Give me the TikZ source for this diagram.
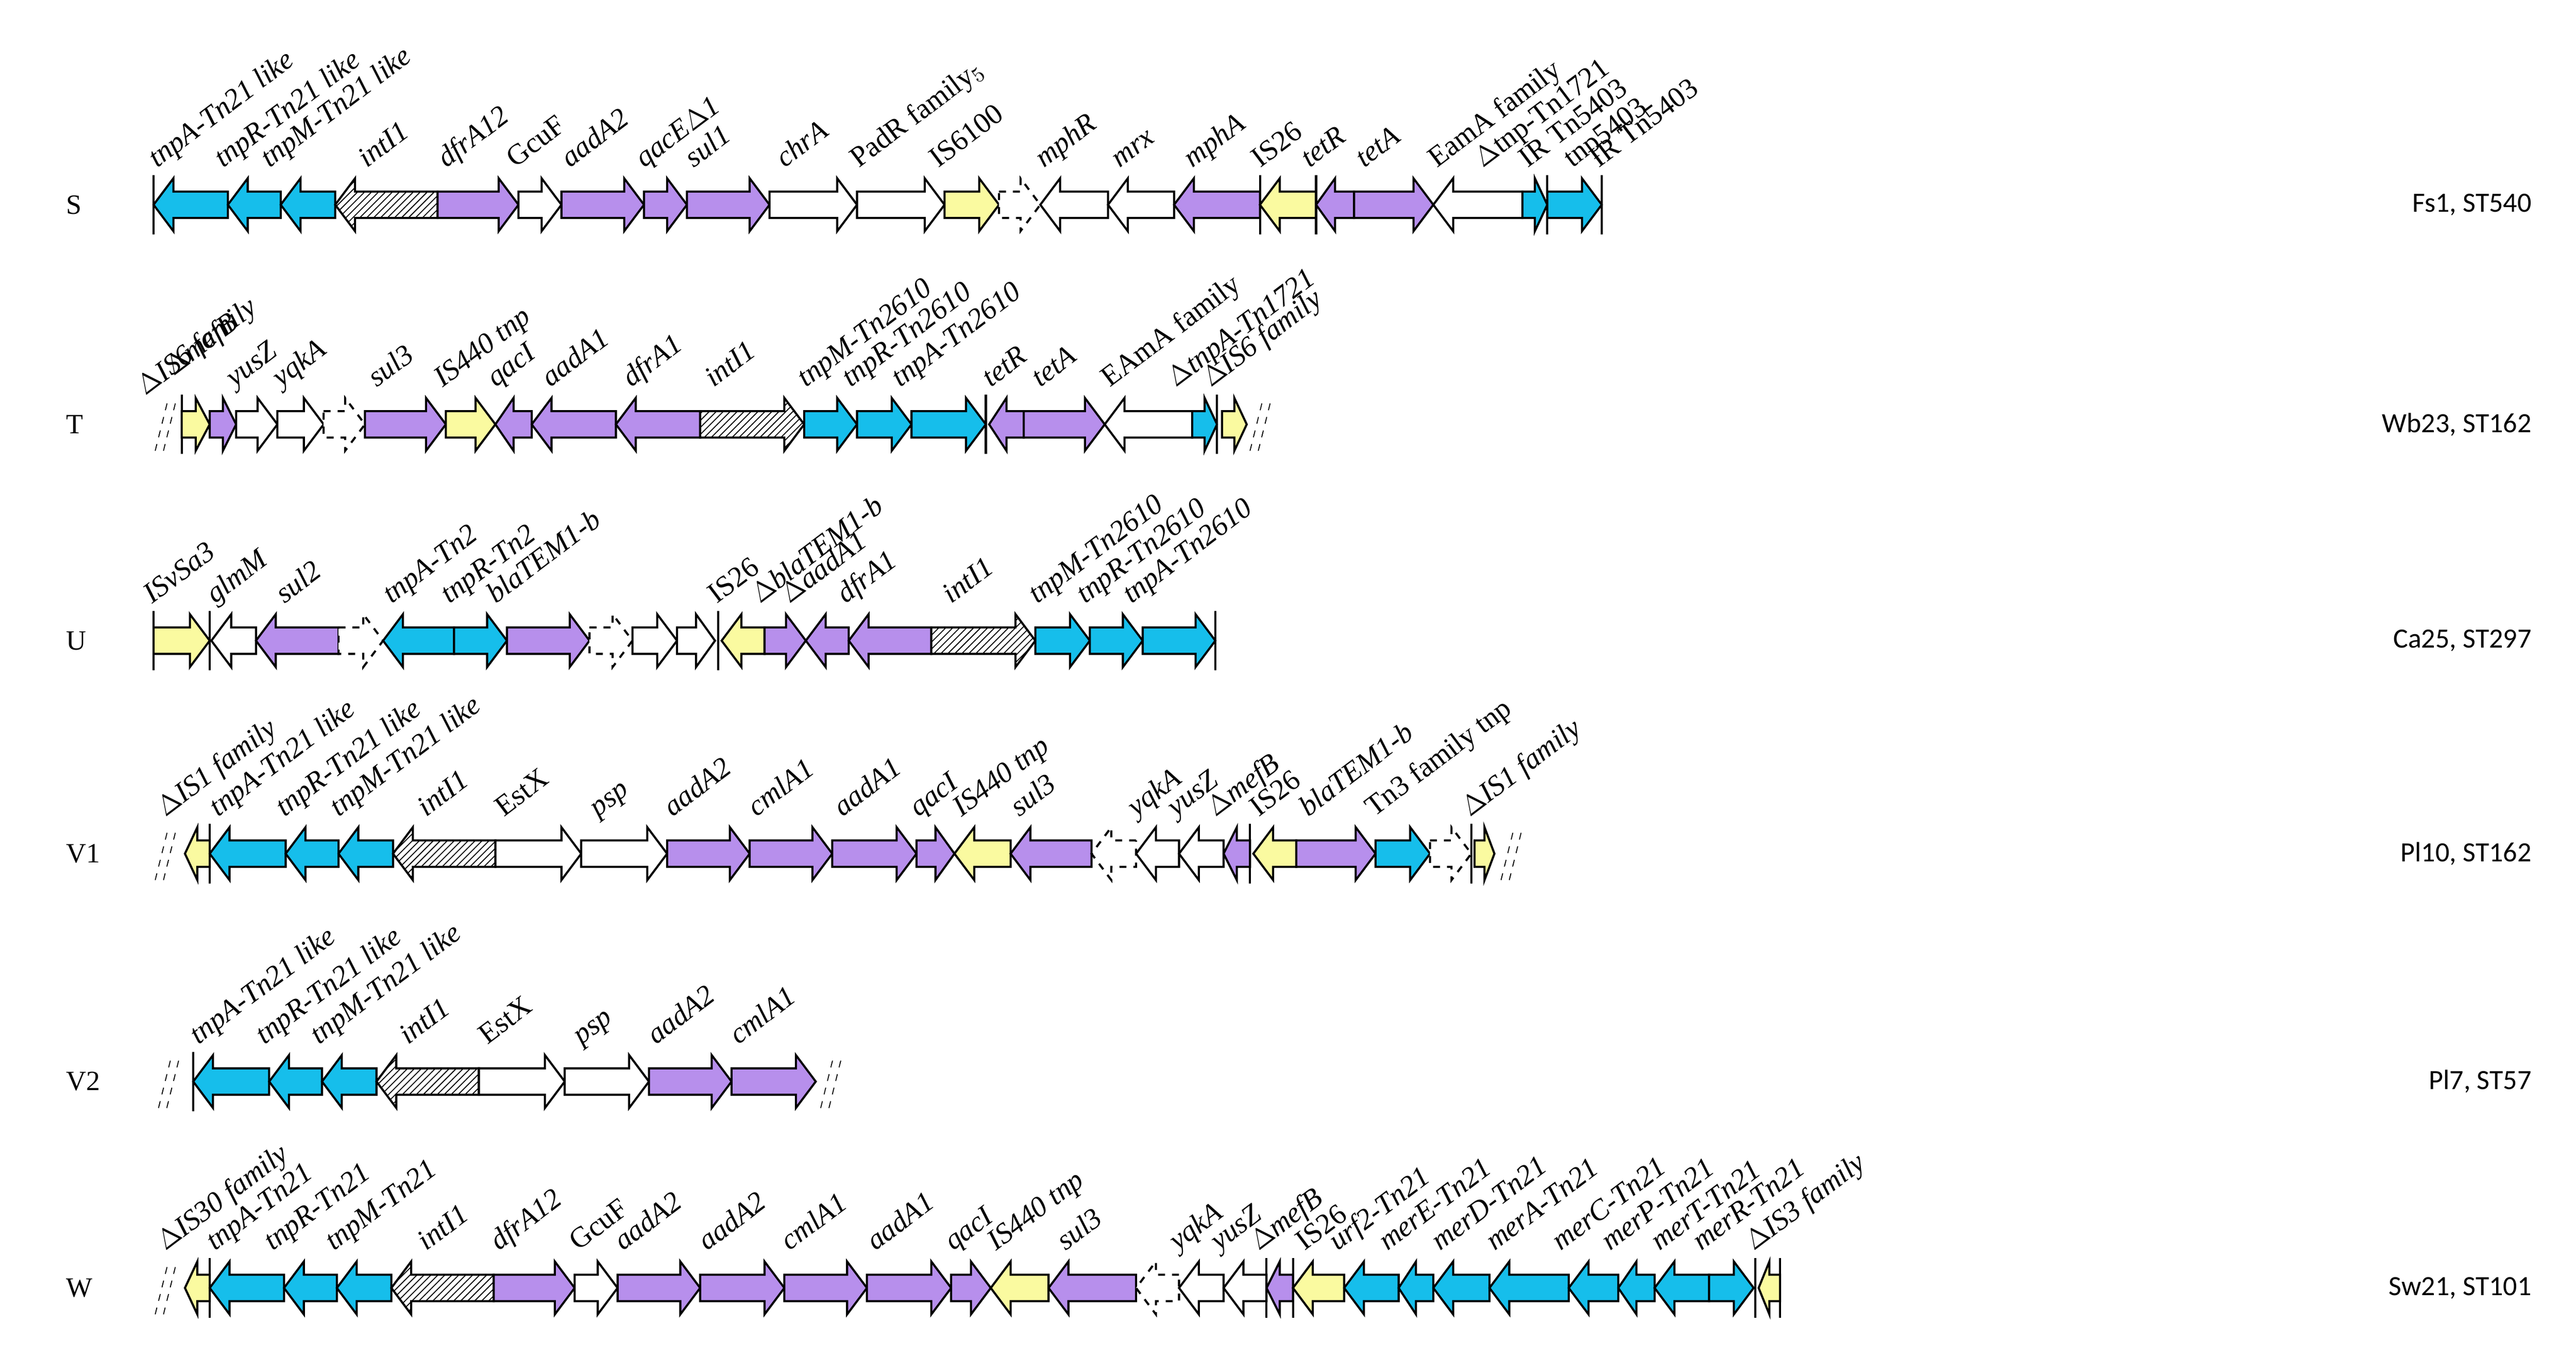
\documentclass[tikz,border=0pt]{standalone}
\usepackage{fontspec}
\setmainfont{Liberation Serif}
\newfontfamily\calib{Carlito}
\usetikzlibrary{patterns}
\definecolor{cyn}{RGB}{22,190,235}
\definecolor{pur}{RGB}{183,143,236}
\definecolor{yel}{RGB}{250,250,160}
\tikzset{
 g/.style={draw=black,line width=0.9pt,line join=miter},
 cy/.style={g,fill=cyn}, pu/.style={g,fill=pur}, ye/.style={g,fill=yel}, wh/.style={g,fill=white},
 hat/.style={g,fill=white,postaction={pattern=north east lines}},
 ds/.style={g,fill=white,dashed},
 lab/.style={rotate=37,anchor=base west,inner sep=0pt,font=\fontsize{12.5}{14}\selectfont\itshape},
 bar/.style={line width=0.9pt},
 rowl/.style={font=\fontsize{12}{14}\selectfont,anchor=west},
 strn/.style={font=\calib\fontsize{12}{14}\selectfont,anchor=east}
}
\newcommand\GR[6]{%
 \pgfmathsetmacro\hh{min(12,0.5*(#2-#1))}
 \draw[#4] (#1,#3-8) -- (#2-\hh,#3-8) -- (#2-\hh,#3-16) -- (#2,#3) -- (#2-\hh,#3+16) -- (#2-\hh,#3+8) -- (#1,#3+8) -- cycle;
 \node[lab] at (#5,#3-22) {#6};}
\newcommand\GL[6]{%
 \pgfmathsetmacro\hh{min(12,0.5*(#2-#1))}
 \draw[#4] (#2,#3-8) -- (#1+\hh,#3-8) -- (#1+\hh,#3-16) -- (#1,#3) -- (#1+\hh,#3+16) -- (#1+\hh,#3+8) -- (#2,#3+8) -- cycle;
 \node[lab] at (#5,#3-22) {#6};}
\newcommand\BR[2]{\draw[bar] (#1,#2-18) -- (#1,#2+18);}
\newcommand\BRK[2]{\draw[thin,dashed] (#1-8,#2+16) -- (#1,#2-16) (#1-3,#2+16) -- (#1+5,#2-16);}
\begin{document}
\begin{tikzpicture}[x=0.025cm,y=-0.025cm]
\useasboundingbox (0,0) rectangle (1560,822.2);
% ---------------- S
\node[rowl] at (35,124) {S};
\node[strn] at (1538,124) {Fs1, ST540};
\BR{93}{124}
\GL{93}{138}{124}{cy}{95}{tnpA-Tn21 like}
\GL{138}{170}{124}{cy}{135}{tnpR-Tn21 like}
\GL{170}{203}{124}{cy}{163}{tnpM-Tn21 like}
\GL{203}{265}{124}{hat}{222}{intI1}
\GR{265}{314}{124}{pu}{270}{dfrA12}
\GR{314}{340}{124}{wh}{312}{\upshape GcuF}
\GR{340}{390}{124}{pu}{345}{aadA2}
\GR{390}{416}{124}{pu}{390}{qacE$\Delta$1}
\GR{416}{466}{124}{pu}{420}{sul1}
\GR{466}{519}{124}{wh}{475}{chrA}
\GR{519}{572}{124}{wh}{520}{\upshape PadR family$_5$}
\GR{572}{605}{124}{ye}{568}{\upshape IS6100}
\GR{605}{630}{124}{ds}{605}{}
\GL{630}{671}{124}{wh}{632}{mphR}
\GL{671}{711}{124}{wh}{678}{mrx}
\GL{711}{763}{124}{pu}{722}{mphA}
\BR{763}{124}
\GL{763}{797}{124}{ye}{763}{\upshape IS26}
\BR{797}{124}
\GL{797}{820}{124}{pu}{793}{tetR}
\GR{820}{868}{124}{pu}{826}{tetA}
\GL{868}{922}{124}{wh}{870}{\upshape EamA family}
\GR{922}{937}{124}{cy}{898}{\upshape $\Delta$tnp-Tn1721}
\BR{937}{124}
\GR{937}{970}{124}{cy}{952}{\upshape tnp5403}
\BR{970}{124}
\node[lab,font=\fontsize{12.5}{14}\selectfont] at (925,102) {IR Tn5403};
\node[lab,font=\fontsize{12.5}{14}\selectfont] at (968,102) {IR Tn5403};
% ---------------- T
\node[rowl] at (35,257) {T};
\node[strn] at (1538,257) {Wb23, ST162};
\BRK{102}{257}
\BR{110}{257}
\GR{110}{127}{257}{ye}{90}{}
\node[lab] at (88,240) {$\Delta$IS6 family};
\GR{127}{143}{257}{pu}{110}{}
\node[lab] at (105,228) {$\Delta$mefB};
\GR{143}{168}{257}{wh}{142}{yusZ}
\GR{168}{196}{257}{wh}{170}{yqkA}
\GR{196}{221}{257}{ds}{196}{}
\GR{221}{270}{257}{pu}{228}{sul3}
\GR{270}{300}{257}{ye}{268}{IS440 tnp}
\GL{300}{322}{257}{pu}{300}{qacI}
\GL{322}{373}{257}{pu}{333}{aadA1}
\GL{373}{424}{257}{pu}{382}{dfrA1}
\GR{424}{487}{257}{hat}{432}{intI1}
\GR{487}{519}{257}{cy}{488}{tnpM-Tn2610}
\GR{519}{552}{257}{cy}{515}{tnpR-Tn2610}
\GR{552}{597}{257}{cy}{545}{tnpA-Tn2610}
\BR{597}{257}
\GL{599}{620}{257}{pu}{600}{tetR}
\GR{620}{669}{257}{pu}{630}{tetA}
\GL{669}{722}{257}{wh}{672}{\upshape EAmA family}
\GR{722}{737}{257}{cy}{712}{$\Delta$tnpA-Tn1721}
\BR{737}{257}
\GR{740}{755}{257}{ye}{733}{$\Delta$IS6 family}
\BRK{765}{257}
% ---------------- U
\node[rowl] at (35,388) {U};
\node[strn] at (1538,388) {Ca25, ST297};
\BR{93}{388}
\GR{93}{127}{388}{ye}{92}{ISvSa3}
\BR{127}{388}
\GL{128}{155}{388}{wh}{130}{glmM}
\GL{155}{205}{388}{pu}{172}{sul2}
\GR{205}{232}{388}{ds}{205}{}
\GL{232}{275}{388}{cy}{237}{tnpA-Tn2}
\GR{275}{307}{388}{cy}{272}{tnpR-Tn2}
\GR{307}{357}{388}{pu}{300}{blaTEM1-b}
\GR{357}{383}{388}{ds}{357}{}
\GR{383}{410}{388}{wh}{383}{}
\GR{410}{433}{388}{wh}{410}{}
\BR{435}{388}
\GL{437}{463}{388}{ye}{434}{\upshape IS26}
\GR{463}{488}{388}{pu}{460}{$\Delta$blaTEM1-b}
\GL{488}{514}{388}{pu}{478}{$\Delta$aadA1}
\GL{514}{564}{388}{pu}{512}{dfrA1}
\GR{564}{627}{388}{hat}{576}{intI1}
\GR{627}{660}{388}{cy}{628}{tnpM-Tn2610}
\GR{660}{692}{388}{cy}{657}{tnpR-Tn2610}
\GR{692}{736}{388}{cy}{685}{tnpA-Tn2610}
\BR{736}{388}
% ---------------- V1
\node[rowl] at (35,517) {V1};
\node[strn] at (1538,517) {Pl10, ST162};
\BRK{102}{517}
\GL{112}{127}{517}{ye}{100}{$\Delta$IS1 family}
\BR{127}{517}
\GL{127}{173}{517}{cy}{132}{tnpA-Tn21 like}
\GL{173}{205}{517}{cy}{172}{tnpR-Tn21 like}
\GL{205}{238}{517}{cy}{205}{tnpM-Tn21 like}
\GL{238}{300}{517}{hat}{258}{intI1}
\GR{300}{352}{517}{wh}{305}{\upshape EstX}
\GR{352}{404}{517}{wh}{362}{psp}
\GR{404}{454}{517}{pu}{407}{aadA2}
\GR{454}{504}{517}{pu}{458}{cmlA1}
\GR{504}{555}{517}{pu}{510}{aadA1}
\GR{555}{578}{517}{pu}{556}{qacI}
\GL{578}{612}{517}{ye}{582}{IS440 tnp}
\GL{612}{661}{517}{pu}{617}{sul3}
\GL{661}{688}{517}{ds}{661}{}
\GL{688}{714}{517}{wh}{688}{yqkA}
\GL{714}{741}{517}{wh}{712}{yusZ}
\GL{741}{757}{517}{pu}{736}{$\Delta$mefB}
\BR{757}{517}
\GL{759}{785}{517}{ye}{762}{\upshape IS26}
\GR{785}{833}{517}{pu}{792}{blaTEM1-b}
\GR{833}{866}{517}{cy}{832}{\upshape Tn3 family tnp}
\GR{866}{891}{517}{ds}{866}{}
\BR{891}{517}
\GR{893}{905}{517}{ye}{890}{$\Delta$IS1 family}
\BRK{917}{517}
% ---------------- V2
\node[rowl] at (35,655) {V2};
\node[strn] at (1538,655) {Pl7, ST57};
\BRK{104}{655}
\BR{117}{655}
\GL{117}{163}{655}{cy}{120}{tnpA-Tn21 like}
\GL{163}{195}{655}{cy}{160}{tnpR-Tn21 like}
\GL{195}{228}{655}{cy}{193}{tnpM-Tn21 like}
\GL{228}{290}{655}{hat}{247}{intI1}
\GR{290}{342}{655}{wh}{295}{\upshape EstX}
\GR{342}{393}{655}{wh}{352}{psp}
\GR{393}{443}{655}{pu}{397}{aadA2}
\GR{443}{494}{655}{pu}{447}{cmlA1}
\BRK{505}{655}
% ---------------- W
\node[rowl] at (35,780) {W};
\node[strn] at (1538,780) {Sw21, ST101};
\BRK{102}{780}
\GL{112}{127}{780}{ye}{100}{$\Delta$IS30 family}
\BR{127}{780}
\GL{127}{172}{780}{cy}{130}{tnpA-Tn21}
\GL{172}{204}{780}{cy}{165}{tnpR-Tn21}
\GL{204}{237}{780}{cy}{202}{tnpM-Tn21}
\GL{237}{299}{780}{hat}{258}{intI1}
\GR{299}{348}{780}{pu}{302}{dfrA12}
\GR{348}{374}{780}{wh}{350}{\upshape GcuF}
\GR{374}{424}{780}{pu}{377}{aadA2}
\GR{424}{475}{780}{pu}{428}{aadA2}
\GR{475}{525}{780}{pu}{478}{cmlA1}
\GR{525}{576}{780}{pu}{530}{aadA1}
\GR{576}{600}{780}{pu}{577}{qacI}
\GL{600}{635}{780}{ye}{603}{IS440 tnp}
\GL{635}{688}{780}{pu}{645}{sul3}
\GL{688}{714}{780}{ds}{688}{}
\GL{714}{741}{780}{wh}{713}{yqkA}
\GL{741}{767}{780}{wh}{738}{yusZ}
\BR{767}{780}
\GL{767}{783}{780}{pu}{762}{$\Delta$mefB}
\BR{783}{780}
\GL{783}{814}{780}{ye}{790}{\upshape IS26}
\GL{814}{847}{780}{cy}{810}{urf2-Tn21}
\GL{847}{868}{780}{cy}{840}{merE-Tn21}
\GL{868}{902}{780}{cy}{872}{merD-Tn21}
\GL{902}{950}{780}{cy}{905}{merA-Tn21}
\GL{950}{980}{780}{cy}{945}{merC-Tn21}
\GL{980}{1002}{780}{cy}{975}{merP-Tn21}
\GL{1002}{1035}{780}{cy}{1005}{merT-Tn21}
\GR{1035}{1062}{780}{cy}{1030}{merR-Tn21}
\BR{1063}{780}
\GL{1065}{1078}{780}{ye}{1062}{$\Delta$IS3 family}
\BR{1078}{780}
\end{tikzpicture}
\end{document}
